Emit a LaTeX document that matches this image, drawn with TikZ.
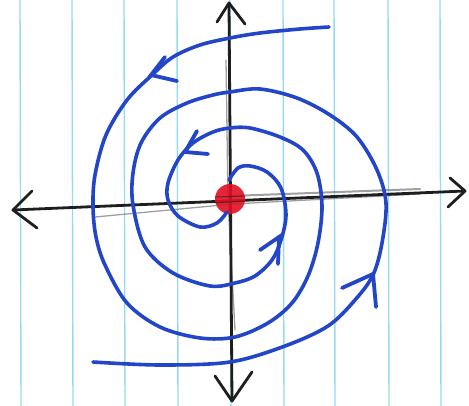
\documentclass[tikz,border=0pt]{standalone}
\usetikzlibrary{calc}
\definecolor{paper}{RGB}{150,218,240}
\definecolor{ink}{RGB}{35,70,200}
\definecolor{pencil}{RGB}{30,30,30}
\definecolor{dot}{RGB}{225,15,35}
\tikzset{
  rule/.style={paper, line width=1.4pt},
  spiral/.style={ink, line width=3.6pt, line cap=round, line join=round},
  axis/.style={pencil, line width=2.8pt, line cap=round, line join=round},
  faint/.style={pencil!60, line width=1.3pt, opacity=0.7, line cap=round},
  chevron/.style={ink, line width=3.8pt, line cap=round, line join=miter}
}
\begin{document}
\begin{tikzpicture}[x=1pt,y=-1pt]
\useasboundingbox (0,0) rectangle (469,406);
\fill[white] (0,0) rectangle (469,406);
% ruled paper lines
\foreach \xx in {20,72,124,177,230,283,334,388,440}
  \draw[rule] (\xx,0) -- (\xx+1,406);
% axes
\coordinate (top) at (229,3);
\coordinate (bot) at (232,401);
\coordinate (lft) at (13,210);
\coordinate (rgt) at (465,191);
\draw[faint] (95,217) -- (233,204) -- (420,194);
\draw[faint, line width=2pt] (230,196) -- (420,189);
\draw[faint] (226,60) -- (228,200) -- (235,330);
\draw[axis] (lft) -- (rgt);
\draw[axis] (top) -- (bot);
\draw[axis] (217,22) -- (top) -- (245,24);
\draw[axis] (215,376) -- (bot) -- (252,372);
\draw[axis] (32,191) -- (lft) -- (37,228);
\draw[axis] (450,178) -- (rgt) -- (448,207);
% centre point
\fill[dot, opacity=0.9] (230,199) circle (15);
\draw[pencil, line width=1pt, opacity=0.6] (215,197) -- (245,196) (215,203) -- (245,201);
% spiral A (from top right)
\draw[spiral] plot[smooth, tension=0.55] coordinates {
 (329,27) (300,29) (260,33) (230,38) (200,45) (173,57) (152,75) (127,100)
 (106,135) (95,175) (93,207) (96,237) (105,265) (127,303) (160,327) (200,338)
 (235,337) (268,323) (292,303) (308,276) (318,243) (322,206) (317,173)
 (303,150) (280,137) (250,128) (230,128) (213,132) (193,143) (178,160)
 (168,183) (168,200) (178,216) (200,227) (217,223) (227,212)};
% spiral B (from bottom left)
\draw[spiral] plot[smooth, tension=0.55] coordinates {
 (93,362) (160,365) (230,362) (285,346) (328,326) (355,300) (373,275)
 (382,243) (386,203) (377,170) (357,137) (330,115) (297,98) (260,89)
 (230,92) (213,95) (187,103) (160,118) (141,143) (133,173) (133,205)
 (145,247) (173,273) (210,286) (235,283) (255,276) (272,260) (281,240)
 (286,215) (281,188) (267,172) (250,166) (238,168) (229,180)};
% direction marks
\draw[chevron] (165,57) -- (151,75) -- (177,81);
\draw[chevron] (197,131) -- (185,152) -- (208,154);
\draw[chevron] (260,250) -- (279,237) -- (278,264);
\draw[chevron] (342,288) -- (373,274) -- (376,307);
\end{tikzpicture}
\end{document}
